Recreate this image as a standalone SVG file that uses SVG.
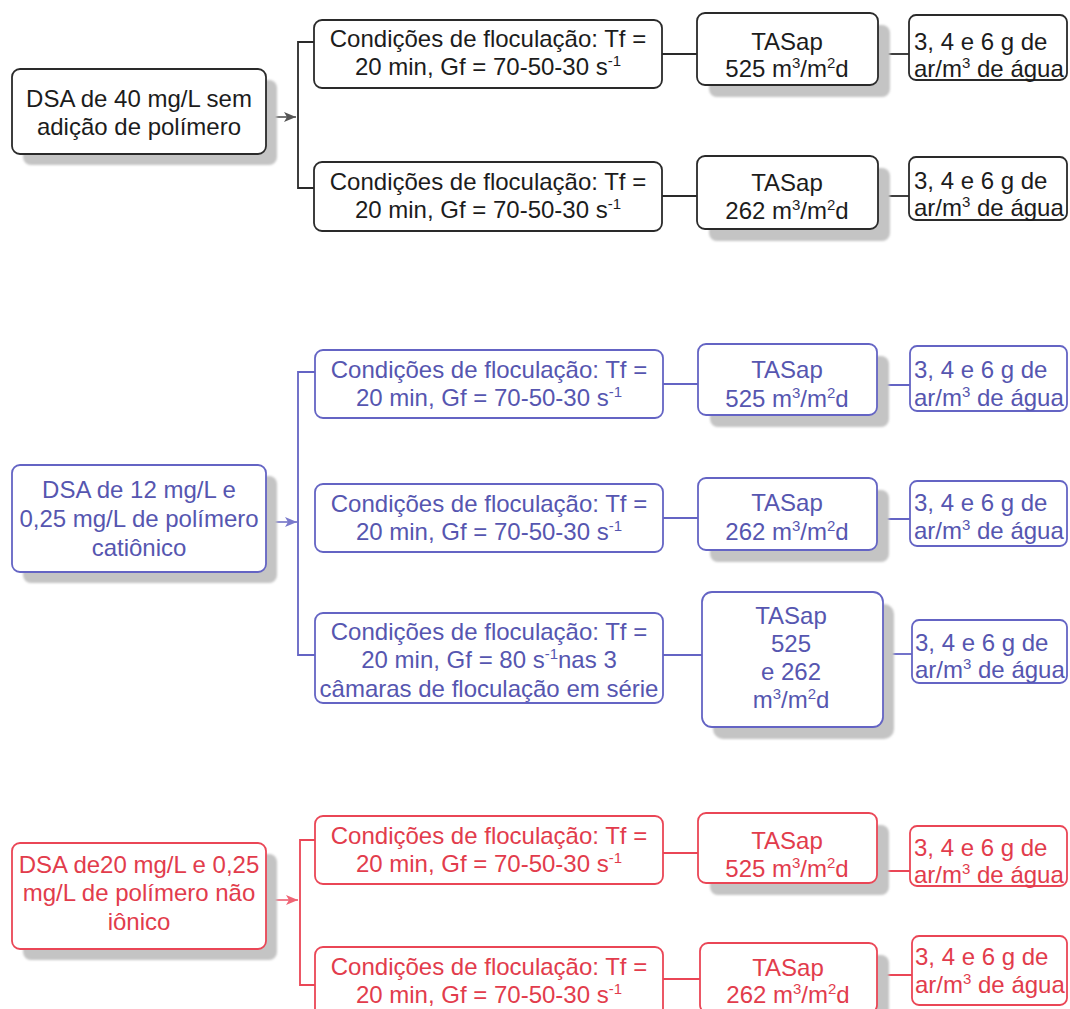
<svg xmlns="http://www.w3.org/2000/svg" width="1070" height="1009" viewBox="0 0 1070 1009">
<style>
text{font-family:"Liberation Sans",Arial,sans-serif;font-size:24px}
.c{text-anchor:middle}
.sup{font-size:15px}
.box{fill:#fff;stroke-width:1.8}
.k .box{stroke:#2a2a2a}.k text{fill:#1c1c1c}
.b .box{stroke:#6464c4}.b text{fill:#5656b0}
.r .box{stroke:#ea4656}.r text{fill:#e23c4c}
.sh{fill:#c4c4c4;filter:url(#blur)}
.ln{fill:none;stroke-width:1.8}
.lk{stroke:#2a2a2a}.lb{stroke:#6464c4}.lr{stroke:#ea4656}
</style>
<defs>
<filter id="blur" x="-10%" y="-10%" width="120%" height="120%"><feGaussianBlur stdDeviation="1"/></filter>
<marker id="ak" viewBox="0 0 12 12" refX="12" refY="6" markerWidth="12" markerHeight="12" markerUnits="userSpaceOnUse" orient="auto"><path d="M0,1 L12,6 L0,11 L3,6 z" fill="#555"/></marker>
<marker id="ab" viewBox="0 0 12 12" refX="12" refY="6" markerWidth="12" markerHeight="12" markerUnits="userSpaceOnUse" orient="auto"><path d="M0,1 L12,6 L0,11 L3,6 z" fill="#7a7acc"/></marker>
<marker id="ar" viewBox="0 0 12 12" refX="12" refY="6" markerWidth="12" markerHeight="12" markerUnits="userSpaceOnUse" orient="auto"><path d="M0,1 L12,6 L0,11 L3,6 z" fill="#ef6474"/></marker>
</defs>
<rect width="1070" height="1009" fill="#fff"/>

<g id="connectors">
<!-- top -->
<path class="ln" d="M266,117 H296" marker-end="url(#ak)" stroke="#666"/>
<path class="ln lk" d="M314,42 H298 V188 H314"/>
<path class="ln lk" d="M662,54 H697"/>
<path class="ln lk" d="M878,54 H909"/>
<path class="ln lk" d="M662,196 H697"/>
<path class="ln lk" d="M878,196 H909"/>
<!-- middle -->
<path class="ln" d="M266,522 H297" marker-end="url(#ab)" stroke="#8080cc"/>
<path class="ln lb" d="M315,372 H298 V655 H315"/>
<path class="ln lb" d="M663,384 H698"/>
<path class="ln lb" d="M877,385 H910"/>
<path class="ln lb" d="M663,518 H698"/>
<path class="ln lb" d="M877,519 H910"/>
<path class="ln lb" d="M663,655 H702"/>
<path class="ln lb" d="M883,654 H912"/>
<!-- bottom -->
<path class="ln" d="M266,900 H298" marker-end="url(#ar)" stroke="#f07080"/>
<path class="ln lr" d="M315,840 H300 V985 H315"/>
<path class="ln lr" d="M663,853 H698"/>
<path class="ln lr" d="M877,871 H910"/>
<path class="ln lr" d="M663,979 H700"/>
<path class="ln lr" d="M877,975 H912"/>
</g>

<!-- TOP SECTION -->
<g id="dsa40" class="k">
<rect class="sh" x="23" y="80" width="254" height="85" rx="8"/>
<rect class="box" x="12" y="69" width="254" height="85" rx="8"/>
<text class="c" x="139" y="107">DSA de 40 mg/L sem</text>
<text class="c" x="139" y="135">adição de polímero</text>
</g>
<g id="k-cond1" class="k">
<rect class="box" x="314" y="20" width="348" height="68" rx="8"/>
<text class="c" x="488" y="47">Condições de floculação: Tf =</text>
<text class="c" x="488" y="75">20 min, Gf = 70-50-30 s<tspan class="sup" dy="-9">-1</tspan></text>
</g>
<g id="k-tas1" class="k">
<rect class="sh" x="709" y="25" width="181" height="72" rx="8"/>
<rect class="box" x="697" y="13" width="181" height="72" rx="8"/>
<text class="c" x="787" y="50">TASap</text>
<text class="c" x="787" y="77">525 m<tspan class="sup" dy="-9">3</tspan><tspan dy="9">/m</tspan><tspan class="sup" dy="-9">2</tspan><tspan dy="9">d</tspan></text>
</g>
<g id="k-ar1" class="k">
<rect class="box" x="909" y="15" width="158" height="65" rx="7"/>
<text x="914" y="50">3, 4 e 6 g de</text>
<text x="914" y="77">ar/m<tspan class="sup" dy="-9">3</tspan><tspan dy="9"> de água</tspan></text>
</g>
<g id="k-cond2" class="k">
<rect class="box" x="314" y="162" width="348" height="69" rx="8"/>
<text class="c" x="488" y="190">Condições de floculação: Tf =</text>
<text class="c" x="488" y="218">20 min, Gf = 70-50-30 s<tspan class="sup" dy="-9">-1</tspan></text>
</g>
<g id="k-tas2" class="k">
<rect class="sh" x="709" y="168" width="181" height="73" rx="8"/>
<rect class="box" x="697" y="156" width="181" height="73" rx="8"/>
<text class="c" x="787" y="191">TASap</text>
<text class="c" x="787" y="219">262 m<tspan class="sup" dy="-9">3</tspan><tspan dy="9">/m</tspan><tspan class="sup" dy="-9">2</tspan><tspan dy="9">d</tspan></text>
</g>
<g id="k-ar2" class="k">
<rect class="box" x="909" y="157" width="158" height="63" rx="7"/>
<text x="914" y="189">3, 4 e 6 g de</text>
<text x="914" y="216">ar/m<tspan class="sup" dy="-9">3</tspan><tspan dy="9"> de água</tspan></text>
</g>

<!-- MIDDLE SECTION -->
<g id="dsa12" class="b">
<rect class="sh" x="23" y="476" width="254" height="107" rx="8"/>
<rect class="box" x="12" y="465" width="254" height="107" rx="8"/>
<text class="c" x="139" y="498">DSA de 12 mg/L e</text>
<text class="c" x="139" y="527">0,25 mg/L de polímero</text>
<text class="c" x="139" y="556">catiônico</text>
</g>
<g id="b-cond1" class="b">
<rect class="box" x="315" y="350" width="348" height="68" rx="8"/>
<text class="c" x="489" y="378">Condições de floculação: Tf =</text>
<text class="c" x="489" y="406">20 min, Gf = 70-50-30 s<tspan class="sup" dy="-9">-1</tspan></text>
</g>
<g id="b-tas1" class="b">
<rect class="sh" x="710" y="356" width="179" height="71" rx="8"/>
<rect class="box" x="698" y="344" width="179" height="71" rx="8"/>
<text class="c" x="787" y="378">TASap</text>
<text class="c" x="787" y="407">525 m<tspan class="sup" dy="-9">3</tspan><tspan dy="9">/m</tspan><tspan class="sup" dy="-9">2</tspan><tspan dy="9">d</tspan></text>
</g>
<g id="b-ar1" class="b">
<rect class="box" x="910" y="346" width="157" height="65" rx="7"/>
<text x="914" y="378">3, 4 e 6 g de</text>
<text x="914" y="406">ar/m<tspan class="sup" dy="-9">3</tspan><tspan dy="9"> de água</tspan></text>
</g>
<g id="b-cond2" class="b">
<rect class="box" x="315" y="484" width="348" height="68" rx="8"/>
<text class="c" x="489" y="512">Condições de floculação: Tf =</text>
<text class="c" x="489" y="540">20 min, Gf = 70-50-30 s<tspan class="sup" dy="-9">-1</tspan></text>
</g>
<g id="b-tas2" class="b">
<rect class="sh" x="710" y="490" width="179" height="72" rx="8"/>
<rect class="box" x="698" y="478" width="179" height="72" rx="8"/>
<text class="c" x="787" y="511">TASap</text>
<text class="c" x="787" y="540">262 m<tspan class="sup" dy="-9">3</tspan><tspan dy="9">/m</tspan><tspan class="sup" dy="-9">2</tspan><tspan dy="9">d</tspan></text>
</g>
<g id="b-ar2" class="b">
<rect class="box" x="910" y="481" width="157" height="65" rx="7"/>
<text x="914" y="511">3, 4 e 6 g de</text>
<text x="914" y="539">ar/m<tspan class="sup" dy="-9">3</tspan><tspan dy="9"> de água</tspan></text>
</g>
<g id="b-cond3" class="b">
<rect class="box" x="315" y="613" width="348" height="90" rx="8"/>
<text class="c" x="489" y="640">Condições de floculação: Tf =</text>
<text class="c" x="489" y="668">20 min, Gf = 80 s<tspan class="sup" dy="-9">-1</tspan><tspan dy="9">nas 3</tspan></text>
<text class="c" x="489" y="697">câmaras de floculação em série</text>
</g>
<g id="b-tas3" class="b">
<rect class="sh" x="713" y="604" width="181" height="135" rx="10"/>
<rect class="box" x="702" y="592" width="181" height="135" rx="10"/>
<text class="c" x="791" y="624">TASap</text>
<text class="c" x="791" y="652">525</text>
<text class="c" x="791" y="680">e 262</text>
<text class="c" x="791" y="708">m<tspan class="sup" dy="-9">3</tspan><tspan dy="9">/m</tspan><tspan class="sup" dy="-9">2</tspan><tspan dy="9">d</tspan></text>
</g>
<g id="b-ar3" class="b">
<rect class="box" x="912" y="620" width="155" height="63" rx="7"/>
<text x="915" y="651">3, 4 e 6 g de</text>
<text x="915" y="678">ar/m<tspan class="sup" dy="-9">3</tspan><tspan dy="9"> de água</tspan></text>
</g>

<!-- BOTTOM SECTION -->
<g id="dsa20" class="r">
<rect class="sh" x="23" y="854" width="254" height="106" rx="8"/>
<rect class="box" x="12" y="843" width="254" height="106" rx="8"/>
<text class="c" x="139" y="873">DSA de20 mg/L e 0,25</text>
<text class="c" x="139" y="901">mg/L de polímero não</text>
<text class="c" x="139" y="930">iônico</text>
</g>
<g id="r-cond1" class="r">
<rect class="box" x="315" y="816" width="348" height="68" rx="8"/>
<text class="c" x="489" y="844">Condições de floculação: Tf =</text>
<text class="c" x="489" y="872">20 min, Gf = 70-50-30 s<tspan class="sup" dy="-9">-1</tspan></text>
</g>
<g id="r-tas1" class="r">
<rect class="sh" x="710" y="825" width="179" height="70" rx="8"/>
<rect class="box" x="698" y="813" width="179" height="70" rx="8"/>
<text class="c" x="787" y="849">TASap</text>
<text class="c" x="787" y="877">525 m<tspan class="sup" dy="-9">3</tspan><tspan dy="9">/m</tspan><tspan class="sup" dy="-9">2</tspan><tspan dy="9">d</tspan></text>
</g>
<g id="r-ar1" class="r">
<rect class="box" x="910" y="826" width="157" height="60" rx="7"/>
<text x="914" y="856">3, 4 e 6 g de</text>
<text x="914" y="883">ar/m<tspan class="sup" dy="-9">3</tspan><tspan dy="9"> de água</tspan></text>
</g>
<g id="r-cond2" class="r">
<rect class="box" x="315" y="947" width="348" height="70" rx="8"/>
<text class="c" x="489" y="975">Condições de floculação: Tf =</text>
<text class="c" x="489" y="1003">20 min, Gf = 70-50-30 s<tspan class="sup" dy="-9">-1</tspan></text>
</g>
<g id="r-tas2" class="r">
<rect class="sh" x="712" y="955" width="177" height="70" rx="8"/>
<rect class="box" x="700" y="943" width="177" height="70" rx="8"/>
<text class="c" x="788" y="976">TASap</text>
<text class="c" x="788" y="1003">262 m<tspan class="sup" dy="-9">3</tspan><tspan dy="9">/m</tspan><tspan class="sup" dy="-9">2</tspan><tspan dy="9">d</tspan></text>
</g>
<g id="r-ar2" class="r">
<rect class="box" x="912" y="936" width="155" height="69" rx="7"/>
<text x="915" y="965">3, 4 e 6 g de</text>
<text x="915" y="993">ar/m<tspan class="sup" dy="-9">3</tspan><tspan dy="9"> de água</tspan></text>
</g>
</svg>
